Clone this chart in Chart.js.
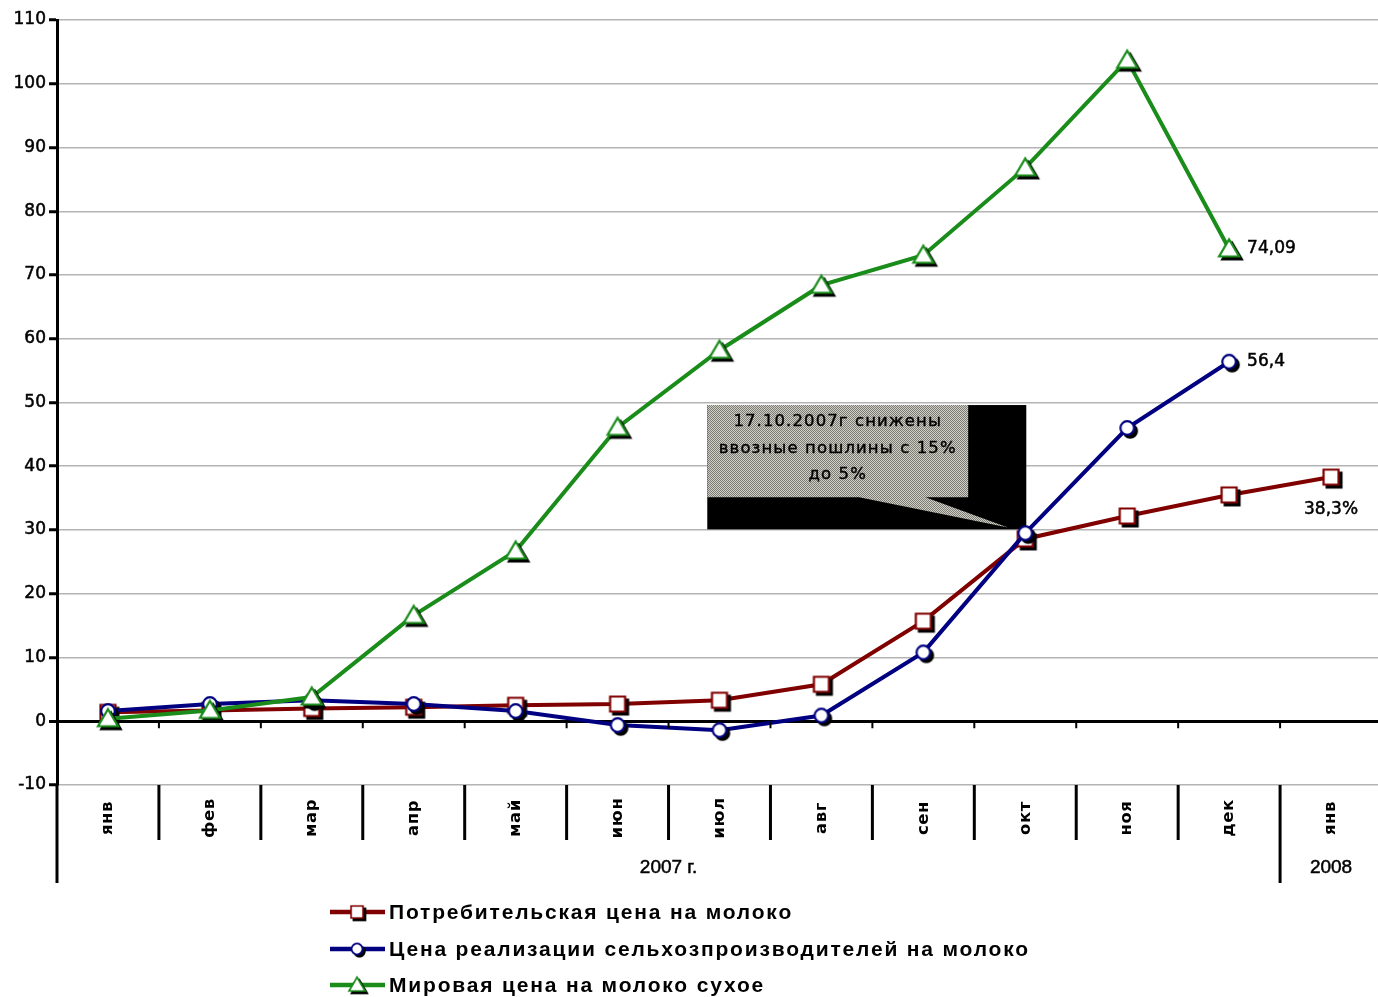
<!DOCTYPE html>
<html><head><meta charset="utf-8">
<script src="https://cdn.jsdelivr.net/npm/chart.js@4"></script>
<style>html,body{margin:0;padding:0;background:#fff;overflow:hidden}</style>
</head><body>
<canvas id="c" width="1382" height="997"></canvas>
<script>
// ---------- data ----------
const months = ['янв','фев','мар','апр','май','июн','июл','авг','сен','окт','ноя','дек','янв'];
const yearGroups = [{label:'2007 г.', from:0, to:11},{label:'2008', from:12, to:12}];
const consumerPrice   = [1.4,1.7,2.0,2.2,2.5,2.7,3.3,5.8,15.7,28.6,32.2,35.5,38.3];
const producerPrice   = [1.6,2.7,3.3,2.7,1.6,-0.6,-1.4,0.9,10.8,29.5,46.0,56.4,null];
const worldPowderPrice= [0.4,1.7,3.8,16.6,26.7,46.1,58.2,68.4,73.1,86.8,103.7,74.09,null];
const seriesNames = ['Потребительская цена на молоко','Цена реализации сельхозпроизводителей на молоко','Мировая цена на молоко сухое'];
const yMin = -10, yMax = 110, yStep = 10;
const endLabels = ['38,3%','56,4','74,09'];
const calloutLines = ['17.10.2007г снижены','ввозные пошлины с 15%','до 5%'];
// callout geometry in data units (category index, value)
const calloutBox = {x0:5.88, x1:9.01, xInner:8.44, y0:49.6, y1:30.1, yInner:35.15, wedgeL:7.37, wedgeR:8.02, tipX:8.83, tipY:30.4};

// ---------- styles ----------
const colors = ['#800000','#000080','#1a8c1a'];

function makeMarker(shape, stroke){
  const S=32, c=document.createElement('canvas'); c.width=S; c.height=S;
  const g=c.getContext('2d'); const cx=S/2, cy=S/2;
  const path=(ox,oy)=>{ g.beginPath();
    if(shape==='square'){ g.rect(cx-7.5+ox,cy-7.5+oy,15,15); }
    else if(shape==='circle'){ g.arc(cx+ox,cy+oy,6.8,0,Math.PI*2); }
    else { g.moveTo(cx+ox,cy-9.5+oy); g.lineTo(cx+10+ox,cy+7.5+oy); g.lineTo(cx-10+ox,cy+7.5+oy); g.closePath(); } };
  path(3,3); g.fillStyle='#000'; g.fill(); g.lineWidth=2; g.strokeStyle='#000'; g.stroke();
  path(0,0); g.fillStyle='#fff'; g.fill(); g.lineWidth=2.2; g.strokeStyle=stroke; g.stroke();
  return c;
}
const markers = [makeMarker('square',colors[0]), makeMarker('circle',colors[1]), makeMarker('triangle',colors[2])];

const pc=document.createElement('canvas'); pc.width=2; pc.height=2;
const pg=pc.getContext('2d'); pg.fillStyle='#7c7c74'; pg.fillRect(0,0,2,2);
pg.fillStyle='#cfcfc7'; pg.fillRect(1,0,1,1); pg.fillRect(0,1,1,1);

function boldText(ctx,t,x,y,w){ ctx.fillText(t,x,y); ctx.lineWidth=w; ctx.strokeStyle=ctx.fillStyle; ctx.strokeText(t,x,y); }

const calloutPlugin = {
  id:'callout',
  beforeDatasetsDraw(chart){
    const ctx=chart.ctx, xs=chart.scales.x, ys=chart.scales.y;
    const X=v=>xs.getPixelForValue(v), Y=v=>ys.getPixelForValue(v);
    const b=calloutBox;
    const L=X(b.x0), R=X(b.x1), R2=X(b.xInner), T=Y(b.y0), B=Y(b.y1), B2=Y(b.yInner);
    ctx.save();
    ctx.fillStyle='#000'; ctx.fillRect(L,T,R-L,B-T);
    ctx.beginPath(); ctx.moveTo(L,T); ctx.lineTo(R2,T); ctx.lineTo(R2,B2); ctx.lineTo(X(b.wedgeR),B2);
    ctx.lineTo(X(b.tipX),Y(b.tipY)); ctx.lineTo(X(b.wedgeL),B2); ctx.lineTo(L,B2); ctx.closePath();
    ctx.fillStyle=ctx.createPattern(pc,'repeat'); ctx.fill();
    ctx.fillStyle='#000'; ctx.font='16.5px "DejaVu Sans"'; ctx.textAlign='center'; ctx.textBaseline='middle';
    ctx.letterSpacing='1.1px';
    const cx=(L+R2)/2;
    calloutLines.forEach((t,i)=>boldText(ctx,t,cx,T+17+i*26.5,0.4));
    ctx.restore();
  }
};

const axisPlugin = {
  id:'axisExtra',
  afterDraw(chart){
    const ctx=chart.ctx, xs=chart.scales.x, ys=chart.scales.y, ca=chart.chartArea;
    const X=v=>xs.getPixelForValue(v);
    const bnd=i=> i<=0 ? ca.left : (i>=months.length ? ca.right : (X(i-1)+X(i))/2);
    const y0=ys.getPixelForValue(0);
    ctx.save();
    ctx.strokeStyle='#000'; ctx.lineCap='butt';
    // zero line ticks
    ctx.lineWidth=2;
    for(let i=1;i<months.length;i++){ ctx.beginPath(); ctx.moveTo(bnd(i),y0); ctx.lineTo(bnd(i),y0+7); ctx.stroke(); }
    // separators
    ctx.lineWidth=3;
    const groupStarts=yearGroups.map(g=>g.from);
    for(let i=1;i<months.length;i++){
      const long=groupStarts.includes(i);
      ctx.beginPath(); ctx.moveTo(bnd(i),ca.bottom); ctx.lineTo(bnd(i),ca.bottom+(long?98:55)); ctx.stroke();
    }
    ctx.beginPath(); ctx.moveTo(ca.left,ca.bottom-1); ctx.lineTo(ca.left,ca.bottom+98); ctx.stroke();
    // month labels
    ctx.fillStyle='#000'; ctx.font='bold 16.5px "DejaVu Sans"'; ctx.textAlign='center'; ctx.textBaseline='middle';
    ctx.letterSpacing='0.6px';
    months.forEach((m,i)=>{ ctx.save(); ctx.translate(X(i),ca.bottom+33); ctx.rotate(-Math.PI/2); ctx.fillText(m,0,0); ctx.restore(); });
    // year labels
    ctx.letterSpacing='0px';
    ctx.font='19px "Liberation Sans"';
    yearGroups.forEach(g=>{ const cx=(bnd(g.from)+bnd(g.to+1))/2; boldText(ctx,g.label,cx,ca.bottom+83,0.5); });
    // end labels
    ctx.font='17px "DejaVu Sans"';
    const last=(arr)=>{ for(let i=arr.length-1;i>=0;i--) if(arr[i]!==null) return i; };
    const iC=last(consumerPrice), iP=last(producerPrice), iW=last(worldPowderPrice);
    ctx.textAlign='center';
    boldText(ctx,endLabels[0], X(iC), ys.getPixelForValue(consumerPrice[iC])+32,0.5);
    ctx.textAlign='left';
    boldText(ctx,endLabels[1], X(iP)+18, ys.getPixelForValue(producerPrice[iP]),0.5);
    boldText(ctx,endLabels[2], X(iW)+18, ys.getPixelForValue(worldPowderPrice[iW]),0.5);
    // legend
    ctx.font='bold 21px "Liberation Sans"';
    ctx.letterSpacing='0px';
    const w0=ctx.measureText(seriesNames[0]).width;
    const ls=Math.max(0,(404-w0)/(seriesNames[0].length));
    ctx.letterSpacing=ls.toFixed(2)+'px';
    const rows=[912,949,985];
    seriesNames.forEach((n,i)=>{
      const y=rows[i];
      ctx.strokeStyle=colors[i]; ctx.lineWidth=4.5;
      ctx.beginPath(); ctx.moveTo(330,y); ctx.lineTo(385,y); ctx.stroke();
      const m=markers[i], s=0.8; ctx.drawImage(m,357-m.width*s/2,y-m.height*s/2,m.width*s,m.height*s);
      ctx.fillStyle='#000'; ctx.textAlign='left'; ctx.textBaseline='middle';
      ctx.fillText(n,389,y+1);
    });
    ctx.restore();
  }
};

const mkDs=(i,data,order)=>({label:seriesNames[i],data,borderColor:colors[i],backgroundColor:colors[i],borderWidth:4,
  pointStyle:markers[i],pointRadius:8,pointHoverRadius:8,tension:0,order,spanGaps:false,clip:false});

new Chart(document.getElementById('c'),{
  type:'line',
  data:{labels:months,datasets:[mkDs(0,consumerPrice,3),mkDs(1,producerPrice,2),mkDs(2,worldPowderPrice,1)]},
  options:{
    responsive:false, devicePixelRatio:1, animation:false,
    layout:{autoPadding:false,padding:{top:20,right:0,bottom:212,left:0}},
    plugins:{legend:{display:false},tooltip:{enabled:false}},
    scales:{
      x:{type:'category',offset:true,display:false},
      y:{min:yMin,max:yMax,
        ticks:{stepSize:yStep,color:'#000',font:{family:'DejaVu Sans',size:17},padding:3,textStrokeColor:'#000',textStrokeWidth:0.5},
        grid:{color:c=>c.tick&&c.tick.value===0?'#000':'#b4b4b4',lineWidth:c=>c.tick&&c.tick.value===0?3:1.5,
              tickColor:'#000',tickLength:8,tickWidth:3,drawTicks:true},
        border:{color:'#000',width:3},
        afterFit(s){ s.width=57; }
      }
    }
  },
  plugins:[calloutPlugin,axisPlugin]
});
</script>
</body></html>
